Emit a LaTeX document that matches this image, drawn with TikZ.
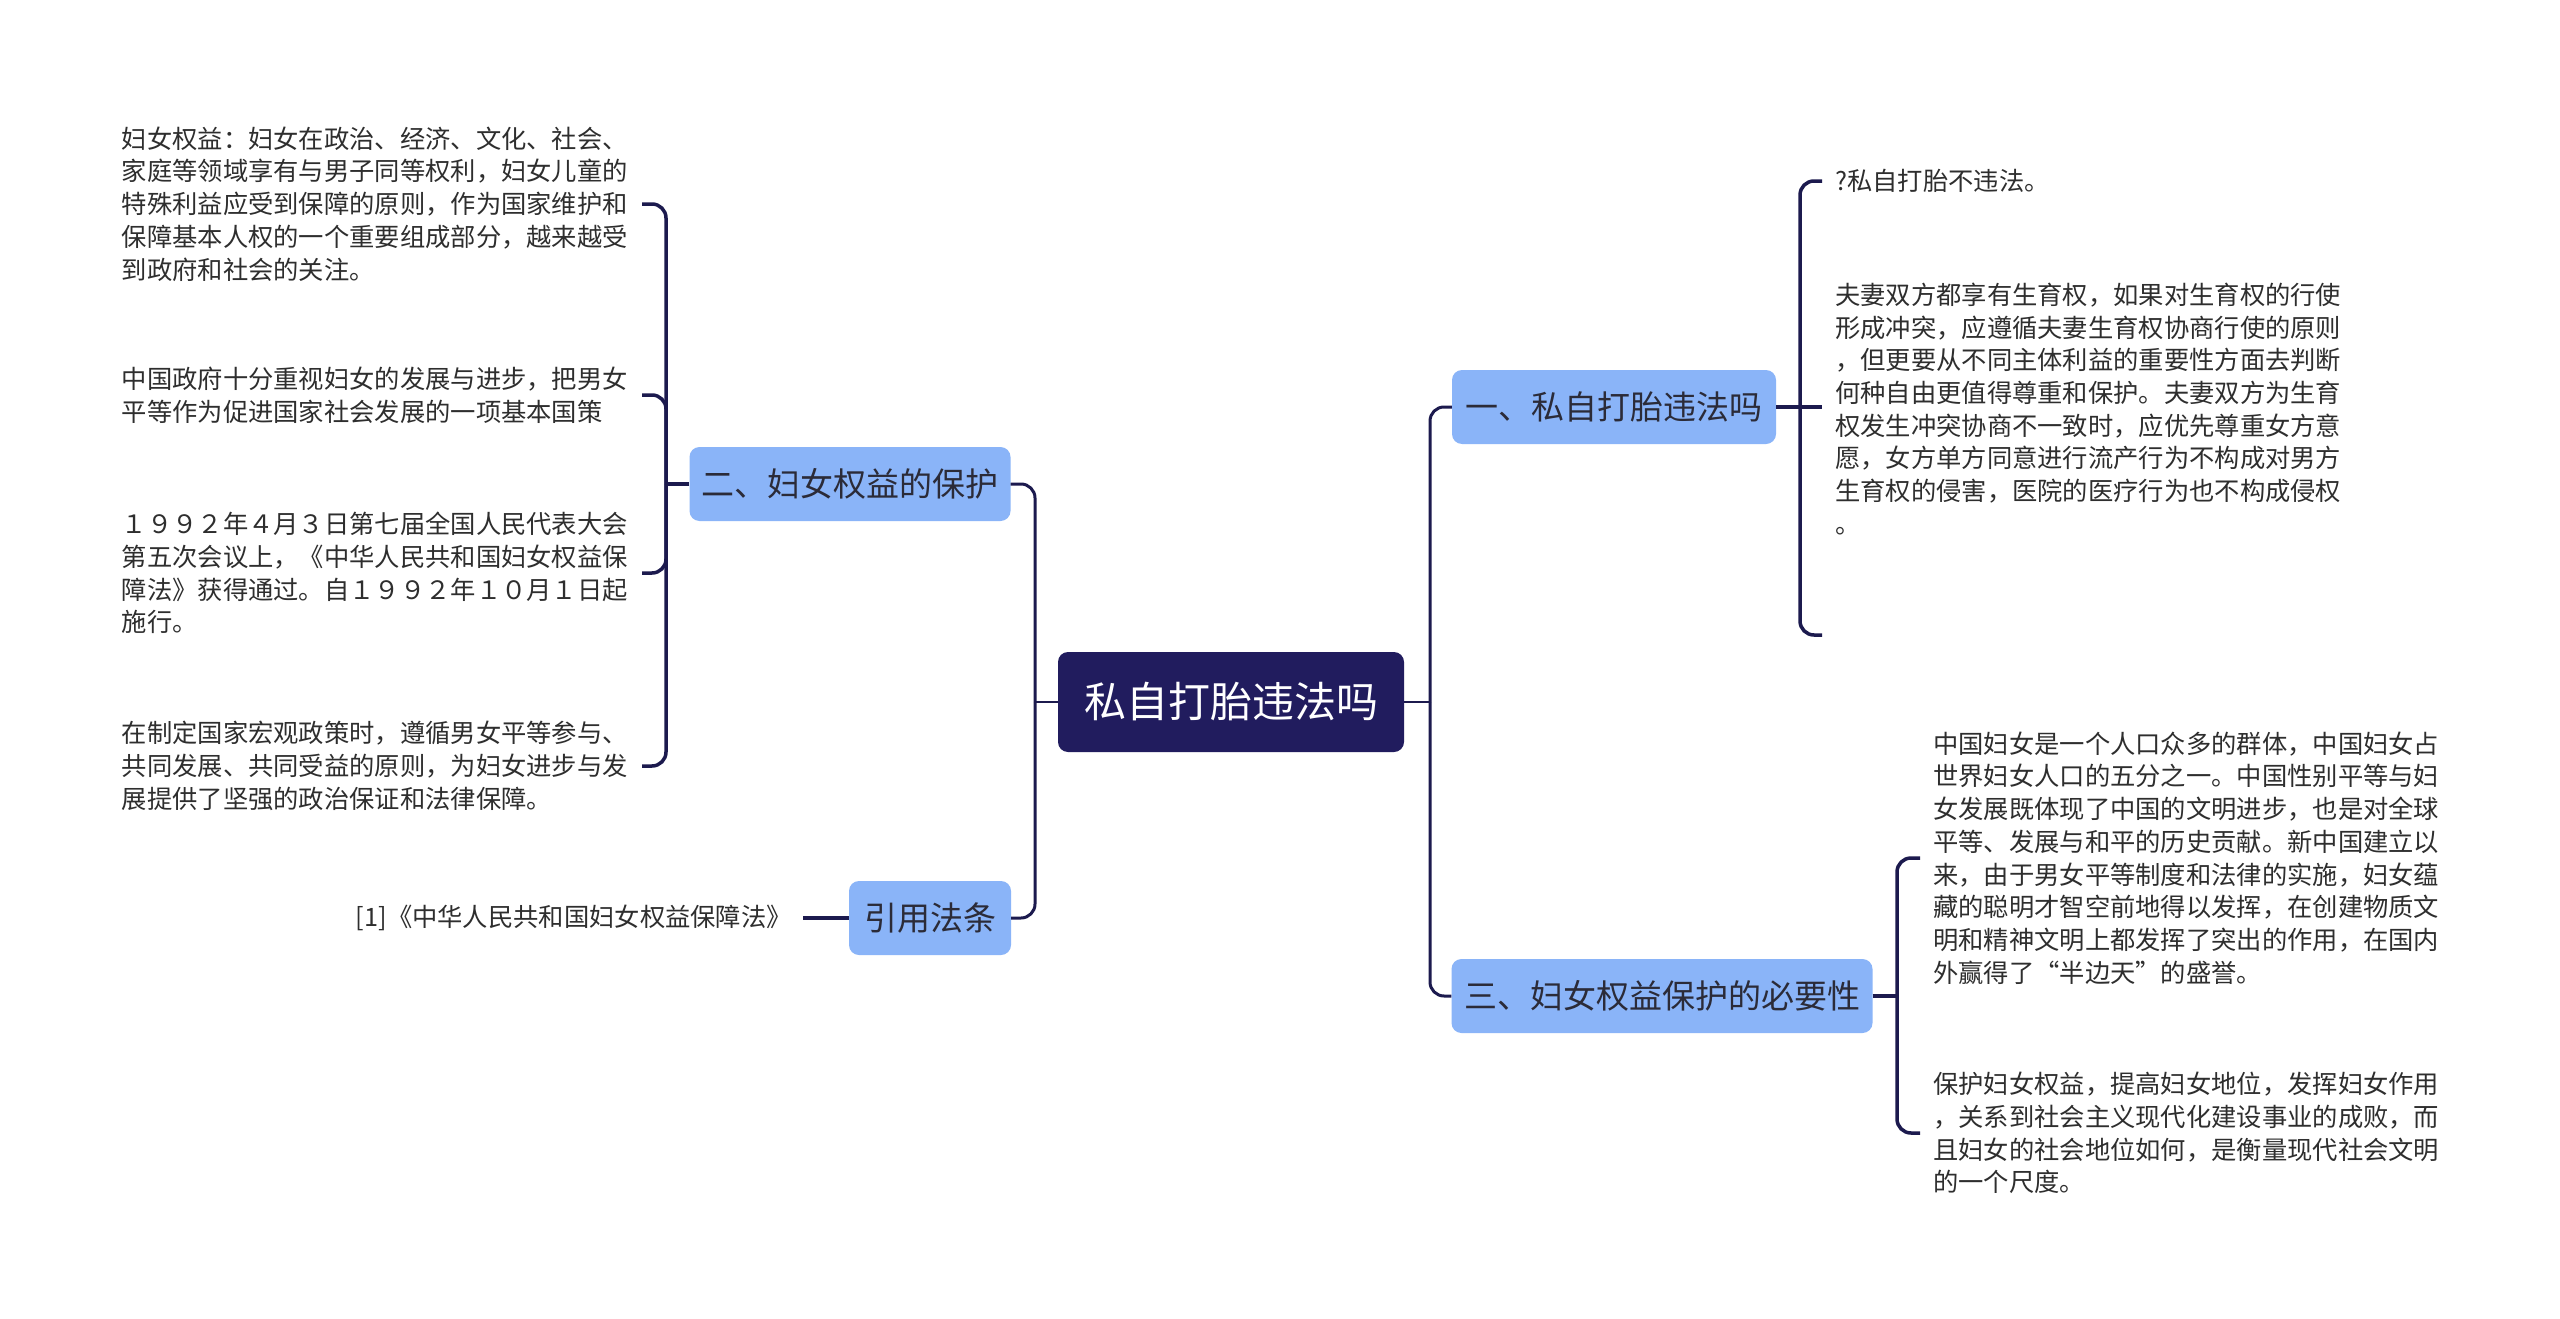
\documentclass[tikz,border=0pt]{standalone}
\usepackage{fontspec}
\setmainfont{Noto Sans CJK SC}
\definecolor{rootnavy}{HTML}{211C5E}
\definecolor{branchblue}{HTML}{8AB4F8}
\definecolor{linenavy}{HTML}{1C1A4E}
\definecolor{bodytext}{HTML}{2E2E2E}
\definecolor{branchtext}{HTML}{2B2B38}

\begin{document}
\begin{tikzpicture}[x=1pt, y=-1pt,
    root/.style={fill=rootnavy, text=white, rounded corners=10pt, minimum width=346pt,
        minimum height=100pt, inner sep=0pt, font=\fontsize{42}{50}\selectfont},
    branch/.style={fill=branchblue, text=branchtext, rounded corners=10pt, minimum height=74pt,
        inner sep=0pt, font=\fontsize{33}{40}\selectfont},
    leaf/.style={text=bodytext, align=left, text width=506pt, inner xsep=14pt, inner ysep=0pt,
        font=\fontsize{25.3}{32.7}\selectfont},
    rootline/.style={draw=linenavy, line width=2pt},
    trunk/.style={draw=linenavy, line width=3pt, rounded corners=14pt},
    twig/.style={draw=linenavy, line width=3.5pt, rounded corners=14pt}]

    \fill[white] (0,0) rectangle (2560,1319);
    \useasboundingbox (0,0) rectangle (2560,1319);

    % Root and main branches
    \node[root] (root) at (1231,702) {私自打胎违法吗};
    \node[branch, minimum width=324pt] (b1) at (1614,407) {一、私自打胎违法吗};
    \node[branch, minimum width=321pt] (b2) at (850,484) {二、妇女权益的保护};
    \node[branch, minimum width=421pt] (b3) at (1662,996) {三、妇女权益保护的必要性};
    \node[branch, minimum width=162pt] (b4) at (930,918) {引用法条};

    \coordinate (jl) at (1035,702);
    \coordinate (jr) at (1430,702);
    \draw[rootline] (root.west) -- (jl);
    \draw[rootline] (root.east) -- (jr);
    \draw[trunk] (jl) |- (b2.east);
    \draw[trunk] (jl) |- (b4.east);
    \draw[trunk] (jr) |- (b1.west);
    \draw[trunk] (jr) |- (b3.west);

    % Left: 二
    \node[leaf, anchor=east] (t21) at (642,204) {妇女权益：妇女在政治、经济、文化、社会、\\
家庭等领域享有与男子同等权利，妇女儿童的\\
特殊利益应受到保障的原则，作为国家维护和\\
保障基本人权的一个重要组成部分，越来越受\\
到政府和社会的关注。};
    \node[leaf, anchor=east] (t22) at (642,395) {中国政府十分重视妇女的发展与进步，把男女\\
平等作为促进国家社会发展的一项基本国策};
    \node[leaf, anchor=east] (t23) at (642,573) {１９９２年４月３日第七届全国人民代表大会\\
第五次会议上，《中华人民共和国妇女权益保\\
障法》获得通过。自１９９２年１０月１日起\\
施行。};
    \node[leaf, anchor=east] (t24) at (642,766) {在制定国家宏观政策时，遵循男女平等参与、\\
共同发展、共同受益的原则，为妇女进步与发\\
展提供了坚强的政治保证和法律保障。};

    \coordinate (j2) at (666,484);
    \draw[twig] (b2.west) -- (j2);
    \foreach \t in {t21,t22,t23,t24}
        \draw[twig] (j2) |- (\t.east);

    % Left: 引用法条
    \node[leaf, text width=, inner xsep=11pt, anchor=east] (t41) at (803,918) {[1]《中华人民共和国妇女权益保障法》};
    \draw[twig] (b4.west) -- (t41.east);

    % Right: 一
    \node[leaf, inner xsep=13pt, anchor=west] (t11) at (1822,181) {?私自打胎不违法。};
    \node[leaf, inner xsep=13pt, anchor=west] (t12) at (1822,409) {夫妻双方都享有生育权，如果对生育权的行使\\
形成冲突，应遵循夫妻生育权协商行使的原则\\
，但更要从不同主体利益的重要性方面去判断\\
何种自由更值得尊重和保护。夫妻双方为生育\\
权发生冲突协商不一致时，应优先尊重女方意\\
愿，女方单方同意进行流产行为不构成对男方\\
生育权的侵害，医院的医疗行为也不构成侵权\\
。};

    \coordinate (j1) at (1800,407);
    \coordinate (e12) at (1822,635);
    \draw[twig] (b1.east) -- (e12 |- b1.east);
    \draw[twig] (j1) |- (t11.west);
    \draw[twig] (j1) |- (e12);

    % Right: 三
    \node[leaf, inner xsep=13pt, anchor=west] (t31) at (1920,858) {中国妇女是一个人口众多的群体，中国妇女占\\
世界妇女人口的五分之一。中国性别平等与妇\\
女发展既体现了中国的文明进步，也是对全球\\
平等、发展与和平的历史贡献。新中国建立以\\
来，由于男女平等制度和法律的实施，妇女蕴\\
藏的聪明才智空前地得以发挥，在创建物质文\\
明和精神文明上都发挥了突出的作用，在国内\\
外赢得了“半边天”的盛誉。};
    \node[leaf, inner xsep=13pt, anchor=west] (t32) at (1920,1133) {保护妇女权益，提高妇女地位，发挥妇女作用\\
，关系到社会主义现代化建设事业的成败，而\\
且妇女的社会地位如何，是衡量现代社会文明\\
的一个尺度。};

    \coordinate (j3) at (1897,996);
    \draw[twig] (b3.east) -- (j3);
    \draw[twig] (j3) |- (t31.west);
    \draw[twig] (j3) |- (t32.west);
\end{tikzpicture}
\end{document}
